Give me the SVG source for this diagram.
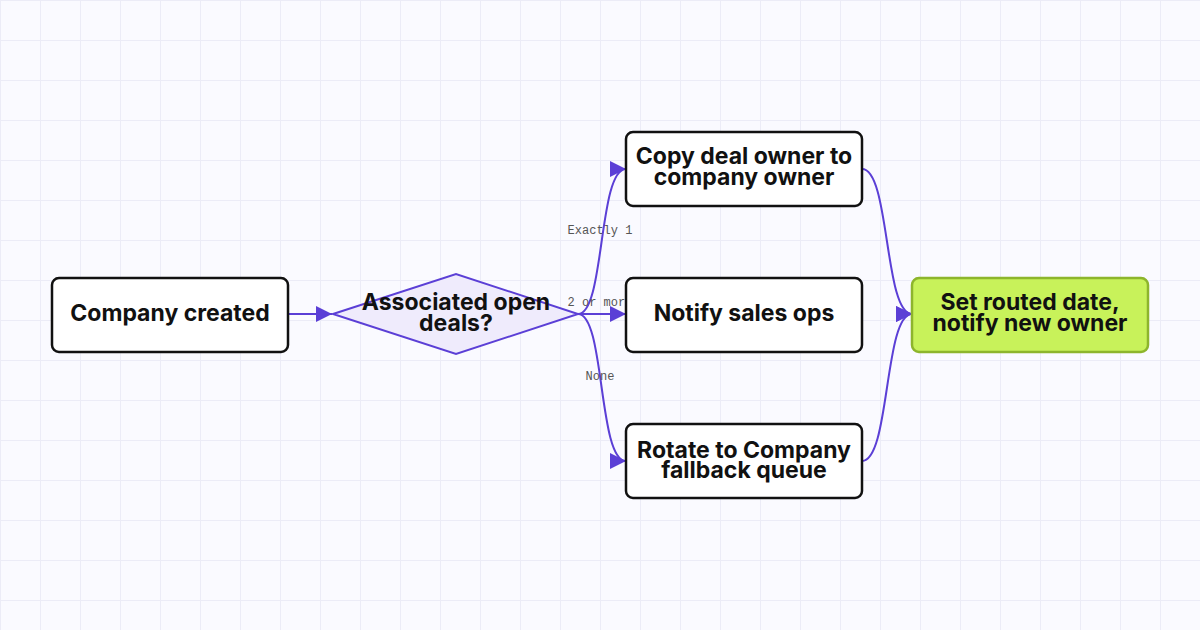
<svg xmlns="http://www.w3.org/2000/svg" width="1200" height="630" viewBox="0 0 1200 630">
<defs>
<pattern id="g" width="40" height="40" patternUnits="userSpaceOnUse"><path d="M0 0H40M0 0V40" fill="none" stroke="#ececf7" stroke-width="2"/></pattern>
<marker id="a" viewBox="0 0 10 10" refX="10" refY="5" markerWidth="16" markerHeight="16" markerUnits="userSpaceOnUse" orient="auto"><path d="M0 0L10 5L0 10z" fill="#5b3fd6"/></marker>
<style>
.e{fill:none;stroke:#5b3fd6;stroke-width:2}
.n{fill:#fff;stroke:#111;stroke-width:2.5}
.t{font-family:Inter,"Liberation Sans",sans-serif;font-weight:700;font-size:23px;fill:#111;text-anchor:middle}
.l{font-family:"Liberation Mono",monospace;font-size:12px;fill:#555;text-anchor:middle}
</style>
</defs>
<rect width="1200" height="630" fill="#fafaff"/>
<rect width="1200" height="630" fill="url(#g)"/>
<g id="connectors">
<path class="e" d="M288 314H332" marker-end="url(#a)"/>
<path class="e" d="M578 314C605 314 598 169 626 169" marker-end="url(#a)"/>
<path class="e" d="M578 314H626" marker-end="url(#a)"/>
<path class="e" d="M578 314C605 314 598 461 626 461" marker-end="url(#a)"/>
<path class="e" d="M862 169C890 169 884 314 912 314" marker-end="url(#a)"/>
<path class="e" d="M862 461C890 461 884 314 912 314" marker-end="url(#a)"/>
<text class="l" x="600" y="234">Exactly 1</text>
<text class="l" x="600" y="306">2 or more</text>
<text class="l" x="600" y="380">None</text>
</g>
<g id="n1"><rect class="n" x="52" y="278" width="236" height="74" rx="7"/><text class="t" x="170" y="321">Company created</text></g>
<g id="n2"><path d="M333 314L456 274L578 314L456 354z" fill="#efebfc" stroke="#5b3fd6" stroke-width="2"/><text class="t" x="456" y="310">Associated open</text><text class="t" x="456" y="331">deals?</text></g>
<g id="n3"><rect class="n" x="626" y="132" width="236" height="74" rx="7"/><text class="t" x="744" y="164">Copy deal owner to</text><text class="t" x="744" y="185">company owner</text></g>
<g id="n4"><rect class="n" x="626" y="278" width="236" height="74" rx="7"/><text class="t" x="744" y="321">Notify sales ops</text></g>
<g id="n5"><rect class="n" x="626" y="424" width="236" height="74" rx="7"/><text class="t" x="744" y="458">Rotate to Company</text><text class="t" x="744" y="478">fallback queue</text></g>
<g id="n6"><rect x="912" y="278" width="236" height="74" rx="7" fill="#c8f25a" stroke="#8db52c" stroke-width="2.5"/><text class="t" x="1030" y="310">Set routed date,</text><text class="t" x="1030" y="331">notify new owner</text></g>
</svg>
